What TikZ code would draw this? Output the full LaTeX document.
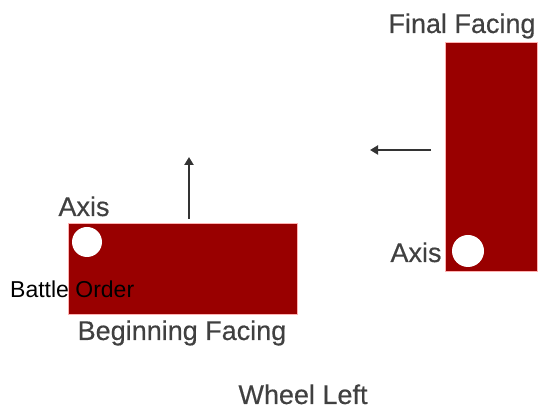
\documentclass[tikz,border=0pt]{standalone}
\usepackage{fontspec}
\setmainfont{Liberation Sans}
\newfontfamily\labfont[FakeBold=0.4]{Liberation Sans}
\usetikzlibrary{arrows.meta}
\definecolor{boxred}{HTML}{990000}
\definecolor{labgray}{HTML}{404040}
\begin{document}
\begin{tikzpicture}[x=1pt,y=-1pt,
  block/.style={fill=boxred,draw=red!30,line width=0.6pt},
  hole/.style={circle,fill=white,draw=none,inner sep=0pt,minimum size=30pt},
  lab/.style={text=labgray,font=\labfont\fontsize{27}{30}\selectfont,inner sep=0pt,anchor=base},
  dirarrow/.style={draw=labgray!80!black,line width=2pt,-{Triangle[length=8pt,width=9pt]}}]
\useasboundingbox (0,0) rectangle (539,411);
% left (beginning facing) block
\path[block] (68,223) rectangle (297,314);
\coordinate (ltop) at (189,219);
\coordinate (ltip) at (189,157);
\node[hole] (lhole) at (87,242) {};
\draw[dirarrow] (ltop) -- (ltip);
\node[lab] (laxis) at (84,216) {Axis};
\node[lab] (begin) at (182,340) {Beginning Facing};
\node[inner sep=0pt,anchor=base west,font=\fontsize{23}{25}\selectfont] (battle) at (10,298) {Battle Order};
% right (final facing) block
\path[block] (445,42) rectangle (537,271);
\node[hole,minimum size=32pt] (rhole) at (468,251) {};
\coordinate (rstart) at (431,150);
\coordinate (rtip) at (370,150);
\draw[dirarrow] (rstart) -- (rtip);
\node[lab] (raxis) at (416,262) {Axis};
\node[lab] (final) at (462,33) {Final Facing};
% caption
\node[lab] (wheel) at (303,404) {Wheel Left};
\end{tikzpicture}
\end{document}
